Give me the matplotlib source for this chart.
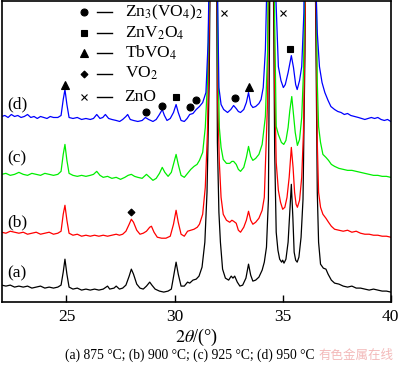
import matplotlib
matplotlib.use("Agg")
import matplotlib.pyplot as plt

# XRD patterns (2theta in degrees, intensity in arbitrary units)
tt_a = [22.0, 22.2, 22.4, 22.6, 22.8, 23.0, 23.2, 23.4, 23.6, 23.8, 24.0, 24.2, 24.4, 24.6,
        24.75, 24.85, 24.93, 25.02, 25.12, 25.3, 25.5, 25.7, 25.9, 26.1, 26.3, 26.5, 26.7,
        26.9, 27.0, 27.2, 27.3, 27.45, 27.6, 27.75, 27.9, 28.0, 28.1, 28.25, 28.4, 28.55,
        28.7, 28.85, 28.95, 29.1, 29.3, 29.5, 29.7, 29.85, 29.95, 30.07, 30.17, 30.3, 30.45,
        30.6, 30.7, 30.85, 31.0, 31.13, 31.27, 31.4, 31.5, 31.6, 31.72, 31.82, 31.92, 31.98,
        32.05, 32.12, 32.22, 32.35, 32.5, 32.62, 32.7, 32.78, 32.9, 33.02, 33.15, 33.3, 33.42,
        33.52, 33.62, 33.75, 33.9, 34.05, 34.15, 34.25, 34.34, 34.4, 34.47, 34.56, 34.63,
        34.7, 34.78, 34.86, 34.95, 35.0, 35.06, 35.15, 35.25, 35.33, 35.4, 35.47, 35.53,
        35.6, 35.67, 35.75, 35.85, 35.94, 36.03, 36.15, 36.27, 36.4, 36.52, 36.6, 36.66,
        36.75, 36.88, 37.0, 37.1, 37.25, 37.4, 37.6, 37.8, 38.0, 38.2, 38.4, 38.6, 38.8,
        39.0, 39.2, 39.4, 39.6, 39.8, 40.0]
int_a = [17, 16, 17, 15, 16, 15, 16, 14, 15, 16, 14, 15, 14, 15,
         17, 30, 43, 28, 15, 13, 14, 12, 13, 12, 13, 12, 13,
         16, 13, 14, 16, 13, 14, 17, 26, 33, 28, 18, 14, 13,
         16, 20, 17, 13, 11, 10, 11, 13, 25, 40, 28, 16, 16,
         20, 19, 22, 23, 26, 35, 60, 110, 220, 500, 1000, 450, 160,
         90, 60, 33, 24, 22, 26, 24, 26, 20, 16, 17, 24, 38,
         27, 21, 22, 25, 32, 40, 55, 103, 300, 1000, 350, 150,
         70, 52, 43, 40, 42, 39, 43, 60, 90, 118, 85, 50,
         42, 40, 45, 65, 103, 250, 600, 1000, 600, 300, 110, 60,
         38, 34, 33, 28, 22, 19, 18, 16, 15, 16, 14, 14, 13,
         12, 13, 12, 11, 11, 10]

tt_b = [22.0, 22.2, 22.4, 22.6, 22.8, 23.0, 23.2, 23.4, 23.6, 23.8, 24.0, 24.2, 24.4, 24.6,
        24.75, 24.85, 24.93, 25.02, 25.12, 25.3, 25.5, 25.7, 25.9, 26.1, 26.3, 26.5, 26.7,
        26.9, 27.1, 27.3, 27.45, 27.6, 27.75, 27.9, 28.0, 28.1, 28.25, 28.4, 28.55, 28.7,
        28.85, 28.93, 29.05, 29.2, 29.4, 29.6, 29.8, 29.95, 30.07, 30.17, 30.3, 30.45, 30.6,
        30.75, 30.9, 31.05, 31.15, 31.3, 31.42, 31.52, 31.62, 31.72, 31.82, 31.92, 32.0,
        32.07, 32.15, 32.25, 32.4, 32.55, 32.65, 32.73, 32.85, 32.95, 33.05, 33.2, 33.32,
        33.42, 33.52, 33.62, 33.75, 33.9, 34.05, 34.15, 34.2, 34.3, 34.38, 34.47, 34.56,
        34.63, 34.7, 34.8, 34.9, 35.0, 35.1, 35.2, 35.3, 35.4, 35.48, 35.55, 35.62, 35.68,
        35.78, 35.88, 35.96, 36.05, 36.15, 36.27, 36.4, 36.52, 36.6, 36.66, 36.75, 36.86,
        37.0, 37.12, 37.25, 37.4, 37.6, 37.8, 38.0, 38.2, 38.4, 38.6, 38.8, 39.0, 39.2,
        39.4, 39.6, 39.8, 40.0]
int_b = [70, 69, 71, 70, 69, 70, 68, 69, 70, 68, 69, 70, 68, 69,
         71, 88, 97, 82, 69, 67, 68, 66, 67, 66, 67, 66, 67,
         66, 67, 68, 67, 68, 71, 78, 83, 80, 72, 68, 69, 71,
         75, 76, 70, 65, 64, 64, 66, 78, 92, 80, 68, 66, 71,
         72, 73, 75, 78, 88, 115, 170, 300, 600, 1100, 500, 200,
         140, 105, 88, 82, 80, 82, 81, 79, 72, 70, 75, 82,
         91, 82, 78, 80, 84, 92, 105, 136, 200, 400, 1100, 450,
         220, 140, 112, 100, 93, 95, 105, 125, 155, 135, 110, 98, 95,
         102, 125, 170, 300, 650, 1100, 650, 350, 160, 110, 95, 88,
         84, 80, 76, 73, 72, 71, 72, 70, 71, 69, 68, 68, 67,
         67, 66, 66, 65]

tt_c = [22.0, 22.2, 22.4, 22.6, 22.8, 23.0, 23.2, 23.4, 23.6, 23.8, 24.0, 24.2, 24.4, 24.6,
        24.75, 24.85, 24.93, 25.02, 25.12, 25.3, 25.5, 25.7, 25.9, 26.1, 26.25, 26.4, 26.55,
        26.7, 26.9, 27.1, 27.3, 27.5, 27.7, 27.85, 28.0, 28.15, 28.3, 28.5, 28.7, 28.85,
        29.0, 29.15, 29.3, 29.43, 29.55, 29.7, 29.85, 29.97, 30.07, 30.17, 30.3, 30.45, 30.6,
        30.75, 30.9, 31.04, 31.15, 31.3, 31.42, 31.52, 31.62, 31.72, 31.82, 31.92, 32.0,
        32.07, 32.15, 32.25, 32.4, 32.55, 32.65, 32.73, 32.85, 32.95, 33.05, 33.2, 33.32,
        33.42, 33.52, 33.62, 33.75, 33.9, 34.05, 34.2, 34.3, 34.38, 34.47, 34.56, 34.63,
        34.7, 34.8, 34.94, 35.05, 35.15, 35.25, 35.33, 35.42, 35.5, 35.58, 35.68, 35.78,
        35.88, 35.96, 36.05, 36.15, 36.27, 36.4, 36.52, 36.6, 36.66, 36.75, 36.86, 37.0,
        37.12, 37.25, 37.4, 37.6, 37.8, 38.0, 38.2, 38.4, 38.6, 38.8, 39.0, 39.2, 39.4,
        39.6, 39.8, 40.0]
int_c = [128, 129, 127, 128, 130, 128, 127, 129, 128, 127, 129, 128, 127, 128,
         131, 148, 158, 142, 129, 127, 126, 127, 126, 127, 128, 131, 127,
         125, 126, 124, 125, 123, 125, 127, 128, 126, 125, 124, 128, 125,
         122, 124, 129, 135, 130, 126, 130, 140, 148, 138, 127, 125, 129,
         133, 136, 138, 142, 150, 175, 220, 330, 650, 1100, 520, 250,
         175, 155, 143, 139, 139, 141, 141, 138, 133, 131, 135, 145,
         156, 146, 142, 144, 148, 158, 186, 250, 450, 1100, 500, 280,
         176, 168, 160, 158, 162, 175, 192, 206, 188, 170, 157, 163,
         185, 230, 350, 700, 1100, 700, 380, 220, 176, 160, 148, 145,
         142, 138, 136, 134, 133, 132, 132, 131, 130, 129, 128, 127, 127,
         126, 126, 125]

tt_d = [22.0, 22.15, 22.3, 22.45, 22.6, 22.75, 22.9, 23.05, 23.2, 23.35, 23.5, 23.65, 23.8,
        23.95, 24.1, 24.25, 24.4, 24.6, 24.75, 24.85, 24.93, 25.02, 25.12, 25.3, 25.5, 25.7,
        25.9, 26.1, 26.25, 26.4, 26.55, 26.68, 26.8, 26.95, 27.1, 27.3, 27.46, 27.6, 27.75,
        27.83, 27.95, 28.1, 28.3, 28.5, 28.65, 28.8, 29.0, 29.15, 29.3, 29.43, 29.53, 29.65,
        29.8, 29.95, 30.07, 30.17, 30.3, 30.45, 30.58, 30.7, 30.85, 31.0, 31.15, 31.3, 31.45,
        31.55, 31.65, 31.75, 31.82, 31.92, 31.98, 32.05, 32.15, 32.27, 32.45, 32.6, 32.73,
        32.85, 32.95, 33.05, 33.2, 33.32, 33.42, 33.52, 33.62, 33.75, 33.9, 34.0, 34.1, 34.2,
        34.28, 34.38, 34.47, 34.56, 34.66, 34.8, 34.92, 35.03, 35.12, 35.25, 35.4, 35.5,
        35.6, 35.67, 35.78, 35.88, 35.98, 36.1, 36.27, 36.42, 36.52, 36.6, 36.7, 36.82,
        36.95, 37.1, 37.23, 37.4, 37.55, 37.7, 37.85, 38.0, 38.15, 38.33, 38.5, 38.65, 38.8,
        38.95, 39.1, 39.25, 39.4, 39.55, 39.7, 39.85, 40.0]
int_d = [186, 187, 185, 188, 186, 187, 185, 186, 188, 185, 186, 184, 186,
         185, 184, 186, 185, 185, 187, 203, 213, 198, 185, 184, 185, 183,
         184, 183, 184, 188, 184, 185, 188, 184, 183, 182, 181, 183, 186,
         188, 183, 182, 181, 182, 185, 183, 181, 183, 188, 193, 187, 182,
         184, 190, 198, 190, 182, 181, 184, 188, 189, 193, 196, 200, 210,
         260, 400, 700, 1100, 600, 320, 215, 198, 193, 190, 193, 197,
         194, 191, 190, 193, 200, 210, 198, 195, 196, 199, 203, 215, 253,
         330, 550, 1100, 600, 320, 236, 222, 215, 218, 230, 247, 235,
         218, 213, 222, 236, 290, 600, 1100, 600, 330, 270, 236, 220,
         210, 202, 196, 193, 191, 190, 188, 189, 187, 186, 185, 184, 183,
         184, 185, 184, 185, 183, 182, 183, 181]

curve_names = ["(a)", "(b)", "(c)", "(d)"]
curve_colors = ["black", "#ff0000", "#00ee00", "#0000ff"]
name_y = [29, 80, 144, 198]

# phase marks above the peaks
phases = ["Zn$_3$(VO$_4$)$_2$", "ZnV$_2$O$_4$", "TbVO$_4$", "VO$_2$", "ZnO"]
phase_markers = ["o", "s", "^", "D", "x"]
phase_sizes = [5, 5, 5.5, 3.5, 4]
mark_tt = [[28.68, 29.4, 30.72, 31.0, 32.78], [30.07, 35.35], [24.93, 33.42], [28.0],
           [32.28, 35.03]]
mark_int = [[190, 197, 196, 203, 205], [206, 254], [218, 216], [90], [290, 290]]


def main():
    plt.rcParams["font.family"] = "Liberation Serif"
    plt.rcParams["mathtext.fontset"] = "stix"

    fig = plt.figure(figsize=(4.0, 3.72), dpi=100)
    ax = fig.add_axes([0.004, 0.188, 0.973, 0.81])

    for tt, inten, col in zip([tt_a, tt_b, tt_c, tt_d], [int_a, int_b, int_c, int_d],
                              curve_colors):
        ax.plot(tt, inten, color=col, lw=0.9)

    for name, y in zip(curve_names, name_y):
        ax.text(22.25, y, name, fontsize=12.5, va="center", ha="left")

    for mk, sz, xs, ys in zip(phase_markers, phase_sizes, mark_tt, mark_int):
        ax.plot(xs, ys, ls="none", marker=mk, ms=sz, color="black", mew=0.8)

    # legend drawn by hand: symbol, dash, formula
    rows = [0.962, 0.893, 0.827, 0.758, 0.68]
    for lab, mk, sz, yr in zip(phases, phase_markers, phase_sizes, rows):
        ax.plot([0.213], [yr], marker=mk, ms=sz, color="black", mew=0.8,
                transform=ax.transAxes, clip_on=False)
        ax.plot([0.245, 0.284], [yr, yr], color="black", lw=1.0, transform=ax.transAxes)
        ax.text(0.316, yr, lab, fontsize=12.5, va="center", ha="left",
                transform=ax.transAxes)

    ax.set_xlim(22, 40)
    ax.set_ylim(0, 302)
    ax.set_xticks([25, 30, 35, 40])
    ax.set_yticks([])
    ax.tick_params(axis="x", direction="in", length=5, width=1, labelsize=12.5, pad=5)
    for sp in ax.spines.values():
        sp.set_linewidth(1.2)
    ax.set_xlabel(r"$2\theta$/(°)", fontsize=13, labelpad=1)

    fig.text(0.475, 0.045, "(a) 875 °C; (b) 900 °C; (c) 925 °C; (d) 950 °C",
             fontsize=9.8, ha="center", va="center")
    fig.text(0.797, 0.045, "有色金属在线", fontsize=9, ha="left", va="center",
             color="#f3b9b9", family=["Noto Sans CJK SC", "DejaVu Sans"])

    fig.savefig("out.png", dpi=100)


if __name__ == "__main__":
    main()
